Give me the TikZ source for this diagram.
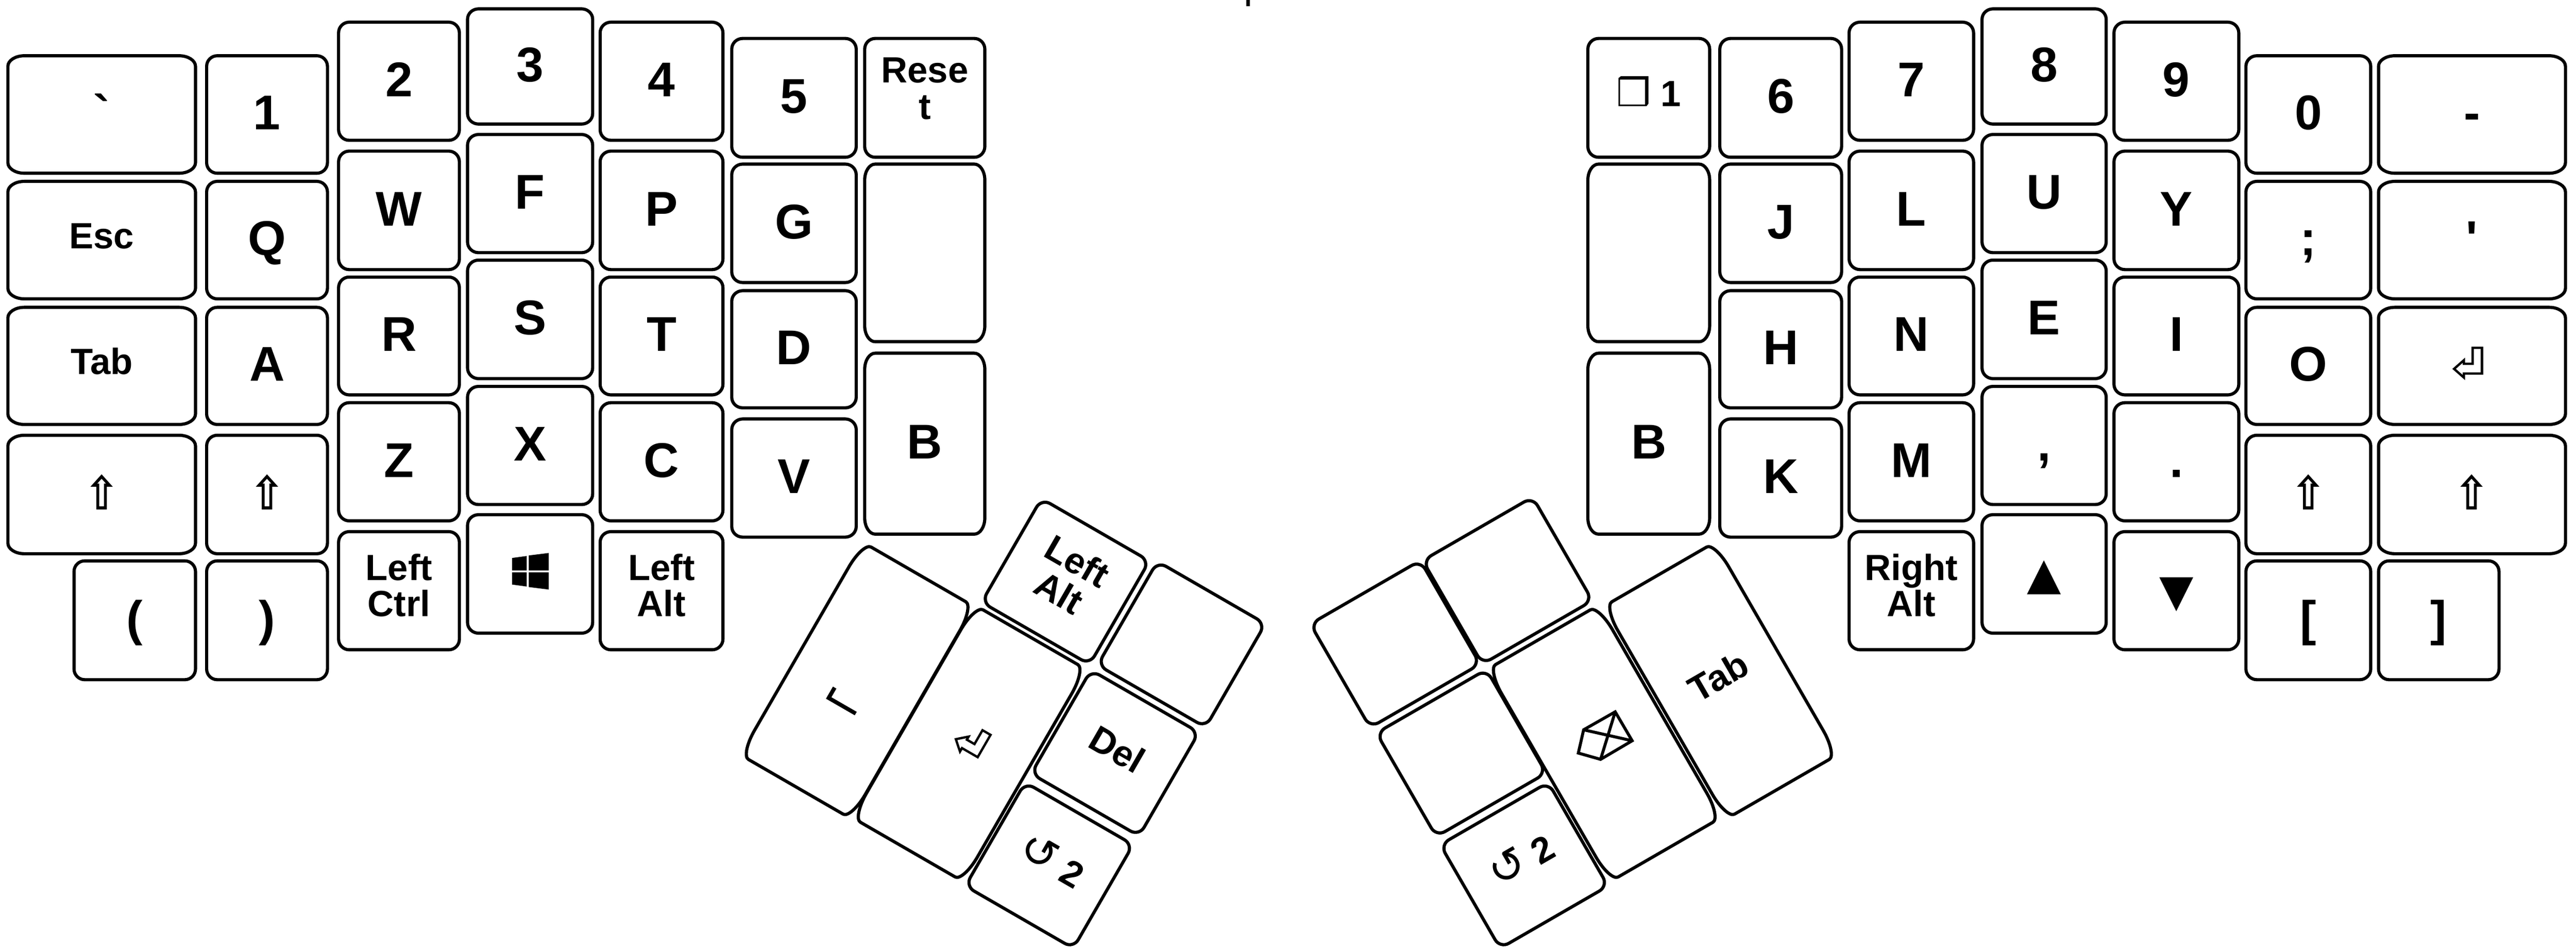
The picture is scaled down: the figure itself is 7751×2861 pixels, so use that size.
\documentclass[tikz,border=0pt]{standalone}
\usepackage{fontspec}
\usepackage{graphicx}
\newfontfamily\kf{Liberation Sans}
\newfontfamily\djv{DejaVu Sans}
\tikzset{
  keynode/.style={inner sep=0pt,outer sep=0pt},
  keyline/.style={draw=black,line width=0.095cm,line join=round},
  iconline/.style={draw=black,line width=0.07cm,miter limit=10},
  bigt/.style={font=\kf\bfseries\fontsize{41.8}{41.8}\selectfont,text height=1.08cm,text depth=.16cm},
  smallt/.style={font=\kf\bfseries\fontsize{31.2}{31}\selectfont,text height=.79cm,text depth=.28cm},
  twol/.style={font=\kf\bfseries\fontsize{31.2}{31}\selectfont,text height=1.88cm,text depth=.34cm},
  resett/.style={font=\kf\bfseries\fontsize{31.2}{31}\selectfont,text height=1.88cm,text depth=.6cm},
  shiftt/.style={font=\djv\bfseries\fontsize{40}{40}\selectfont,text height=1.08cm,text depth=.16cm},
  trit/.style={font=\djv\fontsize{38}{38}\selectfont,text height=1.08cm,text depth=.16cm},
}
\newcommand{\twoline}[2]{\vbox{\baselineskip=31pt\lineskiplimit=-100pt\halign{\hfil##\hfil\cr #1\cr #2\cr}}}
\newcommand{\shk}{\scalebox{.9}[1]{⇧}}
% style, name, (centre), w, h, rot, rx, ry, label
\newcommand{\keyt}[9]{%
  \node[keynode,#1,rotate=#6,minimum width=#4*0.01cm,minimum height=#5*0.01cm] (#2) at #3 {#9};
  \draw[keyline,shift={(#2.center)},rotate=#6]
    ({-(#4)/2+(#7)},{-(#5)/2}) -- ({(#4)/2-(#7)},{-(#5)/2})
    arc[start angle=-90,end angle=0,x radius=#7,y radius=#8]
    -- ({(#4)/2},{(#5)/2-(#8)})
    arc[start angle=0,end angle=90,x radius=#7,y radius=#8]
    -- ({-(#4)/2+(#7)},{(#5)/2})
    arc[start angle=90,end angle=180,x radius=#7,y radius=#8]
    -- ({-(#4)/2},{-(#5)/2+(#8)})
    arc[start angle=180,end angle=270,x radius=#7,y radius=#8]
    -- cycle;
}
% style, name, x1, y1, x2, y2, label (outer extents, y measured downward)
\newcommand{\keyr}[7]{%
  \pgfmathsetmacro\kw{#5-#3-9.5}%
  \pgfmathsetmacro\kh{#6-#4-9.5}%
  \pgfmathsetmacro\kcx{(#3+#5)/2}%
  \pgfmathsetmacro\kcy{-(#4+#6)/2}%
  \pgfmathsetmacro\krx{(32/365)*\kw}%
  \pgfmathsetmacro\kry{(32/355)*\kh}%
  \keyt{#1}{#2}{(\kcx,\kcy)}{\kw}{\kh}{0}{\krx}{\kry}{#7}%
}
\begin{document}
\begin{tikzpicture}[x=0.01cm,y=0.01cm]
\useasboundingbox (0,0) rectangle (7751,-2861);
\fill[white] (0,0) rectangle (7751,-2861);
\fill[black] (3750,0) rectangle (3761,-19);
% left hand
\keyr{bigt}{kGrave}{19}{163}{593}{526}{`}
\keyr{smallt}{kEsc}{19}{541}{593}{904}{Esc}
\keyr{smallt}{kTabL}{19}{920}{593}{1282}{Tab}
\keyr{shiftt}{kShiftA}{19}{1305}{593}{1671}{\shk}
\keyr{bigt}{kParL}{218}{1683}{593}{2050}{(}
\keyr{bigt}{kOne}{617}{163}{990}{526}{1}
\keyr{bigt}{kQ}{617}{541}{990}{904}{Q}
\keyr{bigt}{kA}{617}{920}{990}{1282}{A}
\keyr{shiftt}{kShiftB}{617}{1305}{990}{1671}{\shk}
\keyr{bigt}{kParR}{617}{1683}{990}{2050}{)}
\keyr{bigt}{kTwo}{1014}{62}{1387}{427}{2}
\keyr{bigt}{kW}{1014}{450}{1387}{816}{W}
\keyr{bigt}{kR}{1014}{829}{1387}{1193}{R}
\keyr{bigt}{kZ}{1014}{1207}{1387}{1572}{Z}
\keyr{twol}{kLCtrl}{1014}{1595}{1387}{1960}{\twoline{Left}{Ctrl}}
\keyr{bigt}{kThree}{1402}{22}{1788}{378}{3}
\keyr{bigt}{kF}{1402}{400}{1788}{765}{F}
\keyr{bigt}{kS}{1402}{778}{1788}{1144}{S}
\keyr{bigt}{kX}{1402}{1158}{1788}{1523}{X}
\keyr{bigt}{kWin}{1402}{1544}{1788}{1910}{}
\keyr{bigt}{kFour}{1801}{62}{2180}{427}{4}
\keyr{bigt}{kP}{1801}{450}{2180}{816}{P}
\keyr{bigt}{kT}{1801}{829}{2180}{1193}{T}
\keyr{bigt}{kC}{1801}{1207}{2180}{1572}{C}
\keyr{twol}{kLAltA}{1801}{1595}{2180}{1960}{\twoline{Left}{Alt}}
\keyr{bigt}{kFive}{2197}{111}{2581}{478}{5}
\keyr{bigt}{kG}{2197}{489}{2581}{855}{G}
\keyr{bigt}{kD}{2197}{870}{2581}{1232}{D}
\keyr{bigt}{kV}{2197}{1256}{2581}{1621}{V}
\keyr{resett}{kReset}{2597}{111}{2968}{478}{\twoline{Rese}{t}}
\keyr{bigt}{kBlankL}{2597}{489}{2968}{1033}{}
\keyr{bigt}{kBL}{2597}{1058}{2968}{1612}{B}
% right hand
\keyr{smallt}{kLayer}{4773}{111}{5149}{478}{{\djv\mdseries\fontsize{33}{33}\selectfont ❒} 1}
\keyr{bigt}{kBlankR}{4773}{489}{5149}{1033}{}
\keyr{bigt}{kBR}{4773}{1058}{5149}{1612}{B}
\keyr{bigt}{kSix}{5170}{111}{5546}{478}{6}
\keyr{bigt}{kJ}{5170}{489}{5546}{855}{J}
\keyr{bigt}{kH}{5170}{870}{5546}{1232}{H}
\keyr{bigt}{kK}{5170}{1256}{5546}{1621}{K}
\keyr{bigt}{kSeven}{5559}{62}{5943}{427}{7}
\keyr{bigt}{kL}{5559}{450}{5943}{816}{L}
\keyr{bigt}{kN}{5559}{829}{5943}{1193}{N}
\keyr{bigt}{kM}{5559}{1207}{5943}{1572}{M}
\keyr{twol}{kRAlt}{5559}{1595}{5943}{1960}{\twoline{Right}{Alt}}
\keyr{bigt}{kEight}{5959}{22}{6342}{378}{8}
\keyr{bigt}{kU}{5959}{400}{6342}{765}{U}
\keyr{bigt}{kE}{5959}{778}{6342}{1144}{E}
\keyr{bigt}{kComma}{5959}{1158}{6342}{1523}{,}
\keyr{trit}{kUp}{5959}{1544}{6342}{1910}{▲}
\keyr{bigt}{kNine}{6356}{62}{6741}{427}{9}
\keyr{bigt}{kY}{6356}{450}{6741}{816}{Y}
\keyr{bigt}{kI}{6356}{829}{6741}{1193}{I}
\keyr{bigt}{kDot}{6356}{1207}{6741}{1572}{.}
\keyr{trit}{kDown}{6356}{1595}{6741}{1960}{▼}
\keyr{bigt}{kZero}{6753}{163}{7138}{526}{0}
\keyr{bigt}{kSemi}{6753}{541}{7138}{904}{;}
\keyr{bigt}{kO}{6753}{920}{7138}{1282}{O}
\keyr{shiftt}{kShiftC}{6753}{1305}{7138}{1671}{\shk}
\keyr{bigt}{kBrL}{6753}{1683}{7138}{2050}{[}
\keyr{bigt}{kMinus}{7152}{163}{7724}{526}{-}
\keyr{bigt}{kQuote}{7152}{541}{7724}{904}{'}
\keyr{bigt}{kEnterR}{7152}{920}{7724}{1282}{}
\keyr{shiftt}{kShiftD}{7152}{1305}{7724}{1671}{\shk}
\keyr{bigt}{kBrR}{7152}{1683}{7524}{2050}{]}
% left thumb cluster
\keyt{twol}{kLAltB}{(3206,-1750)}{375}{360}{-30}{30}{30}{\twoline{Left}{Alt}}
\keyt{bigt}{kBlankA}{(3555,-1939)}{375}{360}{-30}{30}{30}{}
\keyt{smallt}{kDel}{(3355,-2266)}{375}{360}{-30}{30}{30}{Del}
\keyt{smallt}{kRedoL}{(3157,-2604)}{375}{360}{-30}{30}{30}{{\djv\mdseries\fontsize{38}{38}\selectfont ↺} 2}
\keyt{bigt}{kEnterL}{(2916,-2237)}{385}{738}{-30}{28}{85}{}
\keyt{bigt}{kSpace}{(2579,-2048)}{385}{738}{-30}{28}{85}{}
% right thumb cluster
\keyt{bigt}{kBlankB}{(4536,-1747)}{382}{360}{30}{30}{30}{}
\keyt{bigt}{kBlankC}{(4198,-1938)}{382}{360}{30}{30}{30}{}
\keyt{bigt}{kBlankD}{(4397,-2266)}{382}{360}{30}{30}{30}{}
\keyt{smallt}{kRedoR}{(4586,-2604)}{375}{360}{30}{30}{30}{{\djv\mdseries\fontsize{38}{38}\selectfont ↺} 2}
\keyt{bigt}{kCube}{(4827,-2237)}{385}{738}{30}{28}{85}{}
\keyt{smallt}{kTabR}{(5177,-2048)}{385}{738}{30}{28}{85}{Tab\hspace{.16cm}}
% icons
\fill[black,shift={(kWin.center)}]
  (-54,48) -- (-10,54) -- (-10,10.5) -- (-54,10.5) -- cycle
  (-4,55.5) -- (56,63) -- (56,10.5) -- (-4,10.5) -- cycle
  (-54,4.5) -- (-10,4.5) -- (-10,-38) -- (-54,-32) -- cycle
  (-4,4.5) -- (56,4.5) -- (56,-47) -- (-4,-39.5) -- cycle;
\draw[iconline,shift={(kEnterR.center)},shift={(-13,8)}]
  (-41,-17) -- (-11.5,9) -- (-11.5,-1.7) -- (15,-1.7) -- (15,46.5) -- (43,46.5) -- (43,-31) -- (-11.5,-31) -- (-11.5,-43) -- cycle;
\draw[iconline,shift={(kEnterL.center)},rotate=-30,shift={(0,8)}]
  (-41,-17) -- (-11.5,9) -- (-11.5,-1.7) -- (15,-1.7) -- (15,46.5) -- (43,46.5) -- (43,-31) -- (-11.5,-31) -- (-11.5,-43) -- cycle;
\draw[black,line width=0.12cm,shift={(kSpace.center)},rotate=-30]
  (-48,-52) -- (-48,-88) -- (46,-88);
\draw[iconline,line width=0.09cm,shift={(kCube.center)},shift={(2,22)},line join=miter]
  (-64,19) -- (31,73) -- (82,-14) -- (-13,-70) -- (-80,-51) -- cycle
  (-64,19) -- (82,-14) (31,73) -- (-13,-70);
\end{tikzpicture}
\end{document}
